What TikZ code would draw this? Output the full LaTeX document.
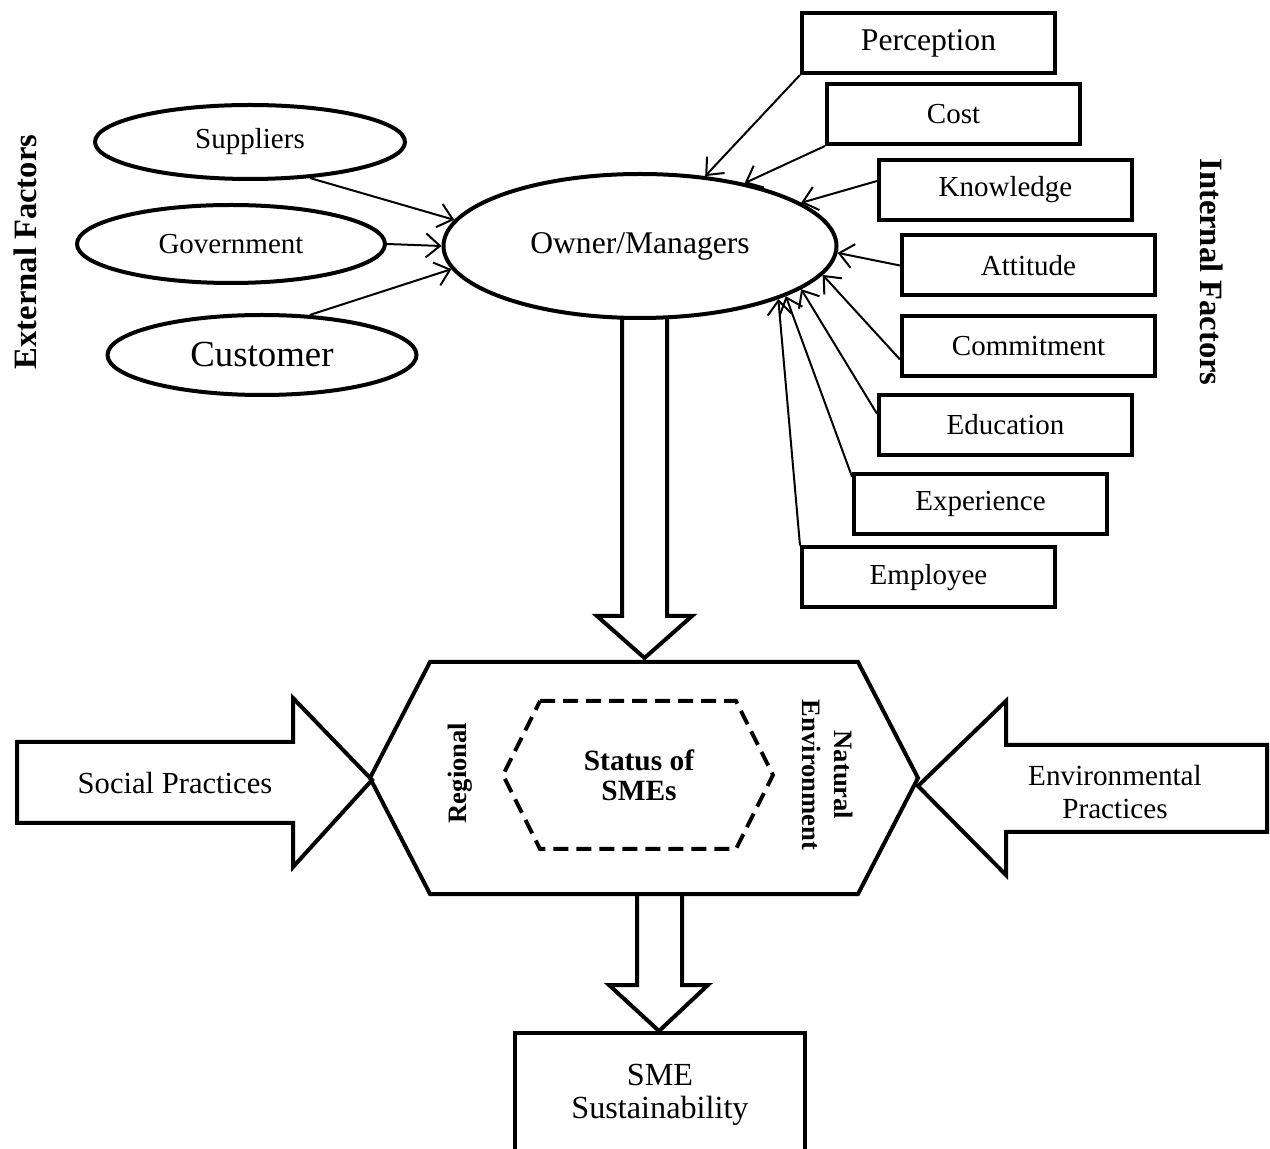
\documentclass[tikz,border=0pt]{standalone}
\usepackage{fontspec}
\setmainfont{Liberation Serif}
\usetikzlibrary{arrows.meta,shapes.geometric,backgrounds}

\begin{document}
\begin{tikzpicture}[x=0.5pt,y=-0.5pt,
  oval/.style={ellipse,draw,line width=2pt,fill=white,inner sep=0pt,
               font=\fontsize{14.5}{17}\selectfont},
  fbox/.style={draw,line width=2pt,fill=white,minimum width=126.5pt,
               minimum height=30pt,inner sep=0pt,font=\fontsize{14.5}{17}\selectfont},
  con/.style={-{Straight Barb[length=7pt,width=12pt]},line width=1pt},
  blk/.style={draw,line width=2pt,fill=white,line join=miter},
  side/.style={line width=2pt,line join=miter},
  lbl/.style={font=\fontsize{16.3}{19}\selectfont\bfseries}
]
\useasboundingbox (0,0) rectangle (1270,1149);
\clip (0,0) rectangle (1270,1149);

% external factors
\node[oval,minimum width=155pt,minimum height=37pt] (sup) at (250,142) {Suppliers};
\node[oval,minimum width=154pt,minimum height=39pt] (gov) at (231,244) {Government};
\node[oval,minimum width=154.5pt,minimum height=40pt,
      font=\fontsize{18.4}{22}\selectfont] (cus) at (262,355) {Customer};
\node[oval,minimum width=196.5pt,minimum height=72pt,
      font=\fontsize{15.8}{19}\selectfont] (own) at (640,246) {Owner/Managers};
\node[lbl,rotate=90] (ext) at (25,252) {External Factors};

% internal factors
\node[fbox,font=\fontsize{15.8}{19}\selectfont] (perc) at (928.5,43) {Perception};
\node[fbox] (cost) at (953.5,114) {Cost};
\node[fbox] (know) at (1005.5,190) {Knowledge};
\node[fbox] (att)  at (1028.5,265.5) {Attitude};
\node[fbox] (comm) at (1028.5,346) {Commitment};
\node[fbox] (edu)  at (1005.5,425) {Education};
\node[fbox] (exp)  at (980.5,504) {Experience};
\node[fbox] (emp)  at (928.5,577.5) {Employee};
\node[lbl,rotate=-90] (int) at (1212,272) {Internal Factors};

\draw[con] (sup.-31) -- (own.172);
\draw[con] (gov.east) -- (own.west);
\draw[con] (cus.40) -- (own.187);

\draw[con] (perc.south west) -- (own.47.5);
\draw[con] (cost.south west) -- (own.31);
\draw[con] (know.176) -- (own.15);
\draw[con] (att.west) -- (own.-2);
\draw[con] (comm.186) -- (own.-9);
\draw[con] (edu.175) -- (own.-15);
\draw[con] (exp.168) -- (own.-19.5);
\draw[con] (emp.north west) -- (own.-21.5);

% block arrows
\begin{scope}[on background layer]
\draw[blk] (622,300) -- (622,616) -- (597,616) -- (644.5,658) -- (692,616)
  -- (667,616) -- (667,300);
\draw[blk] (637,894) -- (637,985) -- (609,985) -- (659,1031) -- (708,985)
  -- (682,985) -- (682,894);
\end{scope}

% status hexagon
\draw[side] (430,662) -- (858,662) -- (918,778) -- (858,894) -- (430,894)
  -- (370,778) -- cycle;
\draw[side,dash pattern=on 7.5pt off 4pt] (540,701) -- (736,701) -- (773,775)
  -- (736,849) -- (540,849) -- (503,775) -- cycle;
\node[align=center,font=\fontsize{14.7}{15}\selectfont\bfseries] (sta) at (639,775)
  {Status of\\SMEs};
\node[rotate=90,font=\fontsize{13.3}{16}\selectfont\bfseries] (reg) at (460,773) {Regional};
\node[rotate=-90,align=center,font=\fontsize{13.3}{16}\selectfont\bfseries] (nat)
  at (828,775) {Natural\\Environment};

% practices
\draw[side] (17,742) -- (293,742) -- (293,698) -- (372,780) -- (293,867)
  -- (293,823) -- (17,823) -- cycle;
\node[font=\fontsize{15.3}{18}\selectfont] (soc) at (175,783) {Social Practices};
\draw[side] (1267,745) -- (1006,745) -- (1006,701) -- (918,786) -- (1006,875)
  -- (1006,832) -- (1267,832) -- cycle;
\node[align=center,font=\fontsize{14.6}{16.5}\selectfont] (env) at (1115,792)
  {Environmental\\Practices};

% outcome
\node[draw,line width=2pt,fill=white,anchor=north,minimum width=145pt,
      minimum height=62pt,align=center,font=\fontsize{16.1}{16.5}\selectfont]
  (sme) at (660,1031) {SME\\Sustainability};
\end{tikzpicture}
\end{document}
